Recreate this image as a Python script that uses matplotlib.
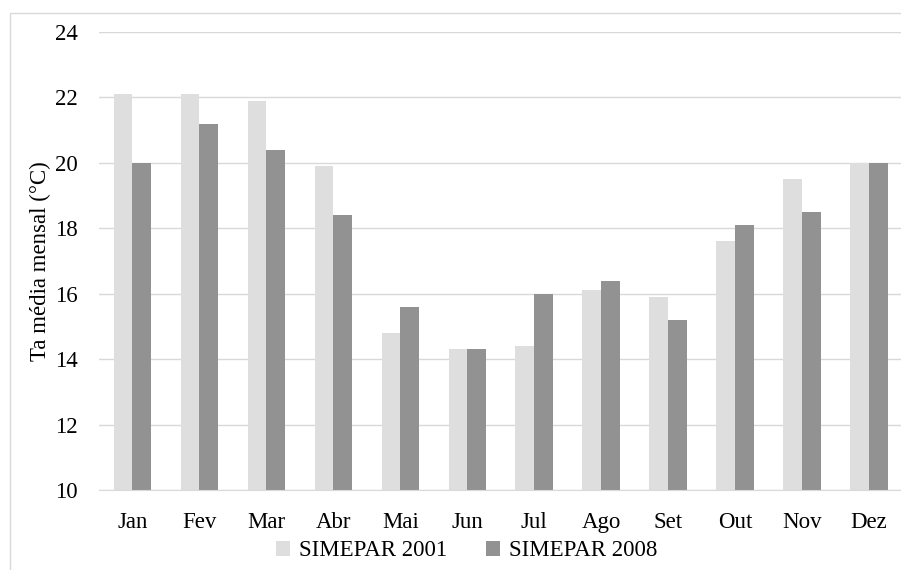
import numpy as np
import matplotlib.pyplot as plt
from matplotlib.patches import Rectangle

plt.rcParams['font.family'] = ['Liberation Serif', 'DejaVu Serif']

meses = ['Jan', 'Fev', 'Mar', 'Abr', 'Mai', 'Jun', 'Jul', 'Ago', 'Set', 'Out', 'Nov', 'Dez']
simepar_2001 = [22.1, 22.1, 21.9, 19.9, 14.8, 14.3, 14.4, 16.1, 15.9, 17.6, 19.5, 20.0]
simepar_2008 = [20.0, 21.2, 20.4, 18.4, 15.6, 14.3, 16.0, 16.4, 15.2, 18.1, 18.5, 20.0]

fig = plt.figure(figsize=(9.01, 5.70), dpi=100)
ax = fig.add_axes([99 / 901, 80 / 570, 803.5 / 901, 458 / 570])

# moldura da area do grafico
fig.patches.append(Rectangle((10 / 901, -0.1), 1.1, (570 - 13) / 570 + 0.1,
                             transform=fig.transFigure, fill=False,
                             edgecolor='#d9d9d9', linewidth=1.0))

x = np.arange(len(meses))
w = 0.28
ax.bar(x - w / 2, simepar_2001, w, color='#dedede', label='SIMEPAR 2001', zorder=2)
ax.bar(x + w / 2, simepar_2008, w, color='#929292', label='SIMEPAR 2008', zorder=2)

ax.set_ylim(10, 24)
ax.set_xlim(-0.5, 11.5)
ax.set_yticks(np.arange(10, 25, 2))
ax.set_xticks(x)
ax.set_xticklabels(meses)
ax.yaxis.grid(True, color='#d9d9d9', linewidth=1.0, zorder=0)
ax.set_axisbelow(True)
for s in ['top', 'right', 'left']:
    ax.spines[s].set_visible(False)
ax.spines['bottom'].set_color('#d9d9d9')
ax.tick_params(axis='both', length=0, labelsize=16.5, colors='black')
ax.tick_params(axis='y', pad=15)
ax.tick_params(axis='x', pad=16)
ax.set_ylabel('Ta média mensal (°C)', fontsize=16.5, labelpad=3)

ax.legend(loc='center', bbox_to_anchor=(467 / 901, 1 - 551 / 570), bbox_transform=fig.transFigure,
          ncol=2, frameon=False, fontsize=16.5, handlelength=0.6, handleheight=0.6,
          handletextpad=0.4, columnspacing=1.7)

fig.savefig('out.png', dpi=100)
